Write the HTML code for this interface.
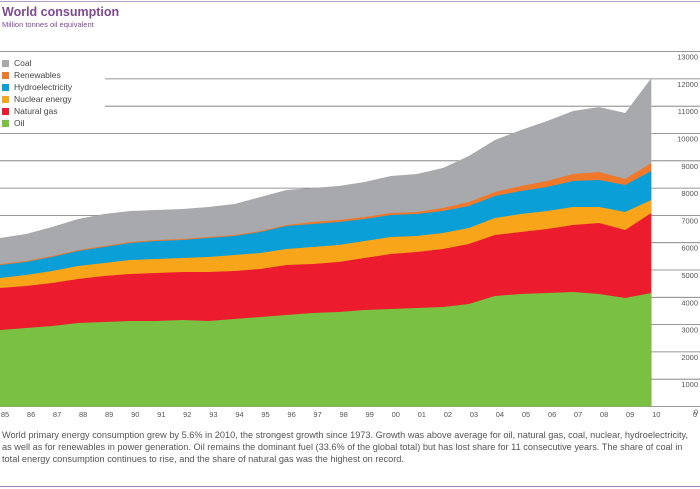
<!DOCTYPE html>
<html><head><style>
body{margin:0;width:700px;height:489px;background:#fff;font-family:"Liberation Sans",sans-serif;position:relative;overflow:hidden}
.t{position:absolute;white-space:nowrap}
</style></head><body>
<div style="position:absolute;left:0;top:1px;width:700px;height:1px;background:#b79cc6"></div>
<div class="t" style="left:2px;top:5px;font-size:12.5px;font-weight:bold;color:#7d4a92">World consumption</div>
<div class="t" style="left:2px;top:20px;font-size:7.5px;color:#7d4a92">Million tonnes oil equivalent</div>
<svg id="c" width="700" height="430" style="position:absolute;left:0;top:0"></svg>
<div id="leg"></div>
<div class="t" style="left:2px;top:429px;font-size:9.2px;color:#555;line-height:12px">World primary energy consumption grew by 5.6% in 2010, the strongest growth since 1973. Growth was above average for oil, natural gas, coal, nuclear, hydroelectricity,<br>as well as for renewables in power generation. Oil remains the dominant fuel (33.6% of the global total) but has lost share for 11 consecutive years. The share of coal in<br>total energy consumption continues to rise, and the share of natural gas was the highest on record.</div>
<div style="position:absolute;left:0;top:486px;width:700px;height:1px;background:#a27fb5"></div>
<script>
var s='';
var y0=406.5,st=27.3;
for(var k=0;k<=13;k++){var y=y0-k*st;var x1=(k==13)?0:(y<120?105:0);
 s+='<line x1="'+x1+'" x2="700" y1="'+y.toFixed(1)+'" y2="'+y.toFixed(1)+'" stroke="#777" stroke-width="0.8"/>';
 s+='<text x="698" y="'+(y+8).toFixed(1)+'" font-size="7.5" fill="#555" text-anchor="end" font-family="Liberation Sans">'+(k==0?'0':k*1000)+'</text>';}
function X(i){return i*26.05;}
var coal=[238,234,227,219,214,211,210,209,207,204,197,190,188,186,182,176,174,168,156,140,130,121,111,107,113,78];
var ren=[264,261,256,250,246,242,240,239,237,235,231,225,222,220,217,213,212,208,202,192,186,181,174,172,179,163];
var hyd=[265,262,257,251,247,243,241,240,238,236,232,226,224,222,219,215,214,211,206,196,191,187,181,180,185,171];
var nuc=[278,275,271,266,263,260,259,258,257,255,253,249,247,245,241,237,236,233,228,218,214,211,207,207,212,200];
var gas=[288,286,283,279,276,274,273,272,272,271,269,265,264,262,258,254,252,249,244,235,232,229,225,223,230,213];
var oil=[330,328,326,323,322,321,321,320,321,319,317,315,313,312,310,309,308,307,304,296,294,293,292,294,298,293];
function area(top,col){var p='';for(var i=0;i<26;i++)p+=X(i).toFixed(1)+','+top[i]+' ';p+=X(25).toFixed(1)+','+y0+' 0,'+y0;s+='<polygon points="'+p+'" fill="'+col+'"/>';}
area(coal,'#a7a9ac');area(ren,'#f0782b');area(hyd,'#0b9fd8');area(nuc,'#f9a51a');area(gas,'#ec1c2e');area(oil,'#7ac143');
var yr=['85','86','87','88','89','90','91','92','93','94','95','96','97','98','99','00','01','02','03','04','05','06','07','08','09','10'];
for(var i=0;i<26;i++)s+='<text x="'+(X(i)+5).toFixed(1)+'" y="417" font-size="7.5" fill="#555" text-anchor="middle" font-family="Liberation Sans">'+yr[i]+'</text>';
s+='<text x="697" y="417" font-size="7.5" fill="#555" text-anchor="end" font-family="Liberation Sans">0</text>';
document.getElementById('c').innerHTML=s;
var L=[['Coal','#a7a9ac'],['Renewables','#f0782b'],['Hydroelectricity','#0b9fd8'],['Nuclear energy','#f9a51a'],['Natural gas','#ec1c2e'],['Oil','#7ac143']],h='';
for(var i=0;i<6;i++){var y=59+i*12;h+='<div style="position:absolute;left:2px;top:'+(y+1)+'px;width:7px;height:7px;background:'+L[i][1]+'"></div><div class="t" style="left:14px;top:'+(y-1)+'px;font-size:8.5px;color:#444">'+L[i][0]+'</div>';}
document.getElementById('leg').innerHTML=h;
</script>
</body></html>
